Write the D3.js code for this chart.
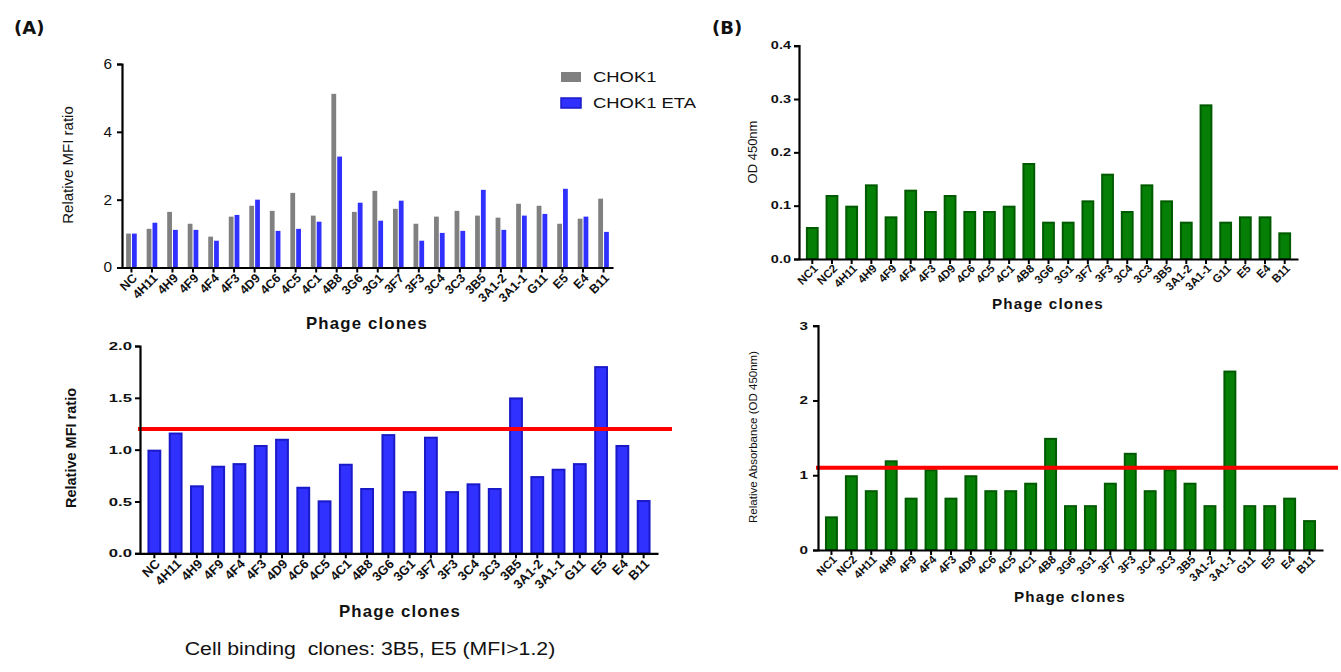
<!DOCTYPE html>
<html>
<head>
<meta charset="utf-8">
<script src="https://cdn.jsdelivr.net/npm/d3@7"></script>
<style>
  html, body { margin: 0; padding: 0; background: #fff; }
  svg { display: block; font-family: "Liberation Sans", Arial, sans-serif; }
</style>
</head>
<body>
<svg id="chart" width="1341" height="672"></svg>
<script>
// ---------- DATA ----------
const catsA = ["NC","4H11","4H9","4F9","4F4","4F3","4D9","4C6","4C5","4C1","4B8","3G6","3G1","3F7","3F3","3C4","3C3","3B5","3A1-2","3A1-1","G11","E5","E4","B11"];
const seriesA = ["CHOK1","CHOK1 ETA"];
const chok1    = [1.0,1.14,1.64,1.29,0.91,1.50,1.82,1.67,2.20,1.53,5.12,1.64,2.26,1.73,1.29,1.50,1.67,1.53,1.47,1.88,1.82,1.29,1.44,2.03];
const chok1ETA = [1.0,1.32,1.11,1.11,0.79,1.55,2.00,1.08,1.14,1.35,3.27,1.91,1.38,1.97,0.79,1.02,1.08,2.29,1.11,1.53,1.58,2.32,1.50,1.05];
const relMFI   = [1.0,1.165,0.656,0.845,0.87,1.045,1.105,0.642,0.511,0.864,0.63,1.15,0.60,1.125,0.60,0.675,0.63,1.504,0.745,0.816,0.87,1.806,1.045,0.514];
const mfiCutoff = 1.2;
const ticksA1 = [0,2,4,6];
const ticksA2 = [0,0.5,1.0,1.5,2.0];

const catsB = ["NC1","NC2","4H11","4H9","4F9","4F4","4F3","4D9","4C6","4C5","4C1","4B8","3G6","3G1","3F7","3F3","3C4","3C3","3B5","3A1-2","3A1-1","G11","E5","E4","B11"];
const od450  = [0.06,0.12,0.10,0.14,0.08,0.13,0.09,0.12,0.09,0.09,0.10,0.18,0.07,0.07,0.11,0.16,0.09,0.14,0.11,0.07,0.29,0.07,0.08,0.08,0.05];
const relAbs = [0.45,1.0,0.8,1.2,0.7,1.08,0.7,1.0,0.8,0.8,0.9,1.5,0.6,0.6,0.9,1.3,0.8,1.08,0.9,0.6,2.4,0.6,0.6,0.7,0.4];
const absCutoff = 1.1;
const ticksB1 = [0,0.1,0.2,0.3,0.4];
const ticksB2 = [0,1,2,3];

// ---------- STYLE ----------
const GRAY = "#808080", BLUE = "#3030ff", BLUE_D = "#1a1ac8", GREEN = "#067f06", GREEN_D = "#005a00", RED = "#ff0000";
const FONT = "'Liberation Sans', Arial, sans-serif";

const svg = d3.select("#chart");

// horizontally stretched text helper (the reference figure is widened)
function wideText(sel, x, y, sx, txt, size, weight, anchor, spacing) {
  return sel.append("text")
    .attr("transform", `translate(${x},${y}) scale(${sx},1)`)
    .attr("text-anchor", anchor || "start")
    .attr("xml:space", "preserve")
    .style("font-family", FONT)
    .style("font-size", size + "px").style("font-weight", weight || "normal")
    .style("letter-spacing", (spacing || 0) + "px")
    .attr("fill", "#111").text(txt);
}

function panel(o) {
  const g = svg.append("g");
  const x = d3.scaleBand().domain(o.cats).range([o.x0, o.x1]).paddingInner(o.padIn).paddingOuter(o.padOut);
  const y = d3.scaleLinear().domain([0, o.ymax]).range([o.y0, o.y1]);

  if (o.groups) {
    const x1 = d3.scaleBand().domain(o.groups.map(d => d.name)).range([0, x.bandwidth()]).padding(0.18);
    o.groups.forEach(s => {
      g.append("g").selectAll("rect").data(o.cats).join("rect")
        .attr("x", d => x(d) + x1(s.name))
        .attr("width", x1.bandwidth())
        .attr("y", (d, i) => y(s.values[i]))
        .attr("height", (d, i) => y(0) - y(s.values[i]))
        .attr("fill", s.color);
    });
  } else {
    g.append("g").selectAll("rect").data(o.cats).join("rect")
      .attr("x", d => x(d) + 1)
      .attr("width", x.bandwidth() - 2)
      .attr("y", (d, i) => y(o.values[i]) + 1)
      .attr("height", (d, i) => Math.max(0, y(0) - y(o.values[i]) - 1))
      .attr("fill", o.color)
      .attr("stroke", o.stroke)
      .attr("stroke-width", 2);
  }

  if (o.cutoff !== undefined) {
    g.append("line")
      .attr("x1", o.x0 - 2).attr("x2", o.lineEnd)
      .attr("y1", y(o.cutoff)).attr("y2", y(o.cutoff))
      .attr("stroke", RED).attr("stroke-width", 4);
  }

  // y axis
  const pad = o.tickPad || 4;
  const ya = g.append("g").attr("transform", `translate(${o.x0},0)`)
    .call(d3.axisLeft(y).tickValues(o.ticks).tickSize(5).tickPadding(pad).tickFormat(o.fmt));
  ya.select(".domain").attr("stroke", "#000").attr("stroke-width", 2.2);
  ya.selectAll(".tick line").attr("stroke", "#000").attr("stroke-width", 2);
  ya.selectAll(".tick text").attr("x", 0)
    .attr("transform", `translate(${-(5 + pad)},0) scale(${o.yTickSx},1)`)
    .attr("fill", "#111").style("font-size", o.yTickSize + "px")
    .style("font-weight", o.yTickWeight).style("font-family", FONT);

  // x axis
  const xa = g.append("g").attr("transform", `translate(0,${o.y0})`)
    .call(d3.axisBottom(x).tickSize(5).tickSizeOuter(0));
  xa.select(".domain").attr("stroke", "#000").attr("stroke-width", 2.2);
  xa.selectAll(".tick line").attr("stroke", "#000").attr("stroke-width", 2);
  xa.selectAll(".tick text")
    .attr("text-anchor", "end")
    .attr("dy", null).attr("y", null)
    .attr("transform", `translate(${o.labDx || 3},${o.labDy || 9}) rotate(-45)`)
    .attr("dominant-baseline", "middle")
    .attr("fill", "#111")
    .style("font-size", o.xTickSize + "px").style("font-weight", "bold")
    .style("font-family", FONT);

  // x title
  wideText(g, o.xTitleX, o.xTitleY, 1.05, "Phage clones", o.xTitleSize, "bold", "middle", 1.1);

  // y title
  g.append("text").attr("transform", `translate(${o.yTitleX},${o.yTitleY}) rotate(-90)`)
    .attr("text-anchor", "middle")
    .style("font-size", o.yTitleSize + "px").style("font-weight", o.yTitleWeight)
    .attr("fill", "#111").text(o.yTitle);
  return { x, y };
}

// (A) top: grouped
panel({
  cats: catsA, x0: 122, x1: 613, y0: 267.5, y1: 64, ymax: 6, padIn: 0.38, padOut: 0.15,
  groups: [{ name: seriesA[0], values: chok1, color: GRAY }, { name: seriesA[1], values: chok1ETA, color: BLUE }],
  ticks: ticksA1, fmt: d3.format("d"), yTickSize: 14, yTickWeight: "normal", yTickSx: 1.1, tickPad: 5,
  xTickSize: 12.5, labDx: 4, labDy: 9,
  xTitleX: 367, xTitleY: 329, xTitleSize: 16,
  yTitle: "Relative MFI ratio", yTitleX: 73, yTitleY: 165, yTitleSize: 15, yTitleWeight: "normal"
});

// legend
const leg = svg.append("g");
[[seriesA[0], GRAY, null, 72], [seriesA[1], BLUE, BLUE_D, 98]].forEach(([name, c, s, yy]) => {
  leg.append("rect").attr("x", 561).attr("y", yy).attr("width", 20).attr("height", 10)
    .attr("fill", c).attr("stroke", s || "none").attr("stroke-width", s ? 1.5 : 0);
  wideText(leg, 593, yy + 10, 1.27, name, 14.5, "normal", "start");
});

// (A) bottom
panel({
  cats: catsA, x0: 140, x1: 658, y0: 553.3, y1: 346, ymax: 2.0, padIn: 0.35, padOut: 0.35,
  values: relMFI, color: BLUE, stroke: BLUE_D, cutoff: mfiCutoff, lineEnd: 672,
  ticks: ticksA2, fmt: d3.format(".1f"), yTickSize: 11.5, yTickWeight: "bold", yTickSx: 1.45, tickPad: 3,
  xTickSize: 13, labDx: 4, labDy: 9,
  xTitleX: 400, xTitleY: 617, xTitleSize: 16,
  yTitle: "Relative MFI ratio", yTitleX: 76, yTitleY: 448, yTitleSize: 14.5, yTitleWeight: "bold"
});

// (B) top
panel({
  cats: catsB, x0: 799, x1: 1298, y0: 259, y1: 45.7, ymax: 0.4, padIn: 0.35, padOut: 0.35,
  values: od450, color: GREEN, stroke: GREEN_D,
  ticks: ticksB1, fmt: d3.format(".1f"), yTickSize: 10, yTickWeight: "bold", yTickSx: 1.45, tickPad: 3,
  xTickSize: 11.5, labDx: 4, labDy: 8,
  xTitleX: 1048, xTitleY: 309, xTitleSize: 14.5,
  yTitle: "OD 450nm", yTitleX: 757, yTitleY: 152, yTitleSize: 13, yTitleWeight: "normal"
});

// (B) bottom
panel({
  cats: catsB, x0: 818, x1: 1323, y0: 550, y1: 325.7, ymax: 3, padIn: 0.35, padOut: 0.35,
  values: relAbs, color: GREEN, stroke: GREEN_D, cutoff: absCutoff, lineEnd: 1338,
  ticks: ticksB2, fmt: d3.format("d"), yTickSize: 10.5, yTickWeight: "bold", yTickSx: 1.45, tickPad: 5,
  xTickSize: 11.5, labDx: 4, labDy: 8,
  xTitleX: 1070, xTitleY: 602, xTitleSize: 14.5,
  yTitle: "Relative Absorbance (OD 450nm)", yTitleX: 757, yTitleY: 437, yTitleSize: 11.5, yTitleWeight: "normal"
});

// panel letters and caption
svg.append("text").attr("x", 14).attr("y", 34).style("font-family", "'DejaVu Sans', Verdana, sans-serif")
  .style("font-size", "18px").style("font-weight", "bold").attr("fill", "#111").text("(A)");
svg.append("text").attr("x", 712).attr("y", 34).style("font-family", "'DejaVu Sans', Verdana, sans-serif")
  .style("font-size", "18px").style("font-weight", "bold").attr("fill", "#111").text("(B)");
wideText(svg, 370, 655, 1.15, "Cell binding  clones: 3B5, E5 (MFI>1.2)", 18.5, "normal", "middle");
</script>
</body>
</html>
